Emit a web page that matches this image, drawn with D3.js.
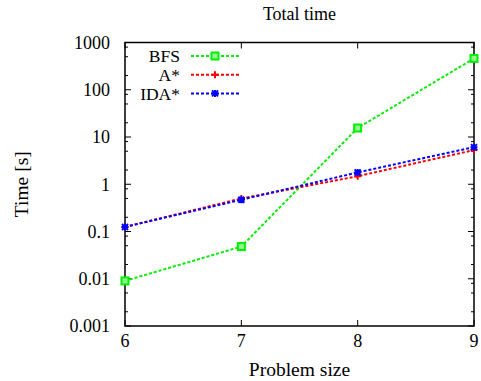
<!DOCTYPE html>
<html><head><meta charset="utf-8">
<script src="https://cdn.jsdelivr.net/npm/d3@7"></script>
<style>
html,body{margin:0;padding:0;background:#fff;}
svg{display:block;}
</style></head><body>
<svg id="chart" width="481" height="381" font-family="'Liberation Serif', 'DejaVu Serif', serif"></svg>
<script>
const sizes = [6, 7, 8, 9];
const bfs   = [0.009, 0.048, 15.5, 460];
const astar = [0.125, 0.50, 1.48, 5.3];
const idastar = [0.125, 0.47, 1.78, 6.1];
const seriesNames = ["BFS", "A*", "IDA*"];
const seriesColors = ["#00ee00", "#ff0000", "#0000ff"];
const seriesMarkers = ["square", "plus", "star"];
const yTickValues = [0.001, 0.01, 0.1, 1, 10, 100, 1000];
const yTickLabels = ["0.001", "0.01", "0.1", "1", "10", "100", "1000"];
const xTickLabels = ["6", "7", "8", "9"];
const minorMults = [2, 5, 8];

const svg = d3.select("#chart");
const FONT = "'Liberation Serif', 'DejaVu Serif', serif";
const m = {left:125, right:474, top:42.5, bottom:326};
const x = d3.scaleLinear().domain([6, 9]).range([m.left, m.right]);
const y = d3.scaleLog().domain([0.001, 1000]).range([m.bottom, m.top]);

const minor = [];
yTickValues.slice(0, -1).forEach(v => minorMults.forEach(k => minor.push(v * k)));

const g = svg.append("g");
g.selectAll(".ymaj").data(yTickValues).join("g").each(function(v){
  const sel = d3.select(this);
  sel.append("line").attr("x1", m.left).attr("x2", m.left + 6).attr("y1", y(v)).attr("y2", y(v)).attr("stroke", "#000");
  sel.append("line").attr("x1", m.right).attr("x2", m.right - 6).attr("y1", y(v)).attr("y2", y(v)).attr("stroke", "#000");
});
g.selectAll(".ymin").data(minor).join("g").each(function(v){
  const sel = d3.select(this);
  sel.append("line").attr("x1", m.left).attr("x2", m.left + 3).attr("y1", y(v)).attr("y2", y(v)).attr("stroke", "#000");
  sel.append("line").attr("x1", m.right).attr("x2", m.right - 3).attr("y1", y(v)).attr("y2", y(v)).attr("stroke", "#000");
});
g.selectAll(".xt").data(sizes).join("g").each(function(v){
  const sel = d3.select(this);
  sel.append("line").attr("x1", x(v)).attr("x2", x(v)).attr("y1", m.bottom).attr("y2", m.bottom - 6).attr("stroke", "#000");
  sel.append("line").attr("x1", x(v)).attr("x2", x(v)).attr("y1", m.top).attr("y2", m.top + 6).attr("stroke", "#000");
});
g.selectAll(".yl").data(yTickValues).join("text")
  .attr("font-family", FONT)
  .attr("x", m.left - 15).attr("y", d => y(d)).attr("dy", "0.35em")
  .attr("text-anchor", "end").attr("font-size", 18).text((d, i) => yTickLabels[i]);
g.selectAll(".xl").data(sizes).join("text")
  .attr("font-family", FONT)
  .attr("x", d => x(d)).attr("y", 347)
  .attr("text-anchor", "middle").attr("font-size", 18).text((d, i) => xTickLabels[i]);

svg.append("rect").attr("x", m.left).attr("y", m.top).attr("width", m.right - m.left).attr("height", m.bottom - m.top)
  .attr("fill", "none").attr("stroke", "#000").attr("stroke-width", 1.5);

svg.append("text").attr("font-family", FONT).attr("x", (m.left + m.right) / 2).attr("y", 20).attr("text-anchor", "middle").attr("font-size", 18).text("Total time");
svg.append("text").attr("font-family", FONT).attr("x", (m.left + m.right) / 2).attr("y", 376).attr("text-anchor", "middle").attr("font-size", 19.5).text("Problem size");
svg.append("text").attr("font-family", FONT).attr("transform", `translate(28,${(m.top + m.bottom) / 2}) rotate(-90)`).attr("text-anchor", "middle").attr("font-size", 19.5).text("Time [s]");

function marker(sel, type, color, cx, cy) {
  const s = 3.5;
  if (type === "square") {
    sel.append("rect").attr("x", cx - s).attr("y", cy - s).attr("width", 2 * s).attr("height", 2 * s)
      .attr("fill", "#8fff8f").attr("stroke", color).attr("stroke-width", 2);
  } else if (type === "plus") {
    sel.append("path").attr("d", `M${cx - s},${cy}H${cx + s}M${cx},${cy - s}V${cy + s}`).attr("stroke", color).attr("stroke-width", 2);
  } else {
    sel.append("path").attr("d", `M${cx - s},${cy}H${cx + s}M${cx},${cy - s}V${cy + s}M${cx - 3},${cy - 3}L${cx + 3},${cy + 3}M${cx - 3},${cy + 3}L${cx + 3},${cy - 3}`)
      .attr("stroke", color).attr("stroke-width", 2);
  }
}

const allSeries = [bfs, astar, idastar];
const line = d3.line().x((d, i) => x(sizes[i])).y(d => y(d));
allSeries.forEach((vals, k) => {
  const gs = svg.append("g");
  gs.append("path").attr("d", line(vals)).attr("fill", "none").attr("stroke", seriesColors[k])
    .attr("stroke-width", 2).attr("stroke-dasharray", "3,2");
  vals.forEach((v, i) => marker(gs, seriesMarkers[k], seriesColors[k], x(sizes[i]), y(v)));
});

const legY = [56, 74.7, 93.4];
seriesNames.forEach((name, k) => {
  const gl = svg.append("g");
  gl.append("text").attr("font-family", FONT).attr("x", 180).attr("y", legY[k]).attr("dy", "0.35em").attr("text-anchor", "end").attr("font-size", 17.5).text(name);
  gl.append("line").attr("x1", 191).attr("x2", 239).attr("y1", legY[k]).attr("y2", legY[k])
    .attr("stroke", seriesColors[k]).attr("stroke-width", 2).attr("stroke-dasharray", "3,2");
  marker(gl, seriesMarkers[k], seriesColors[k], 215, legY[k]);
});
</script>
</body></html>
